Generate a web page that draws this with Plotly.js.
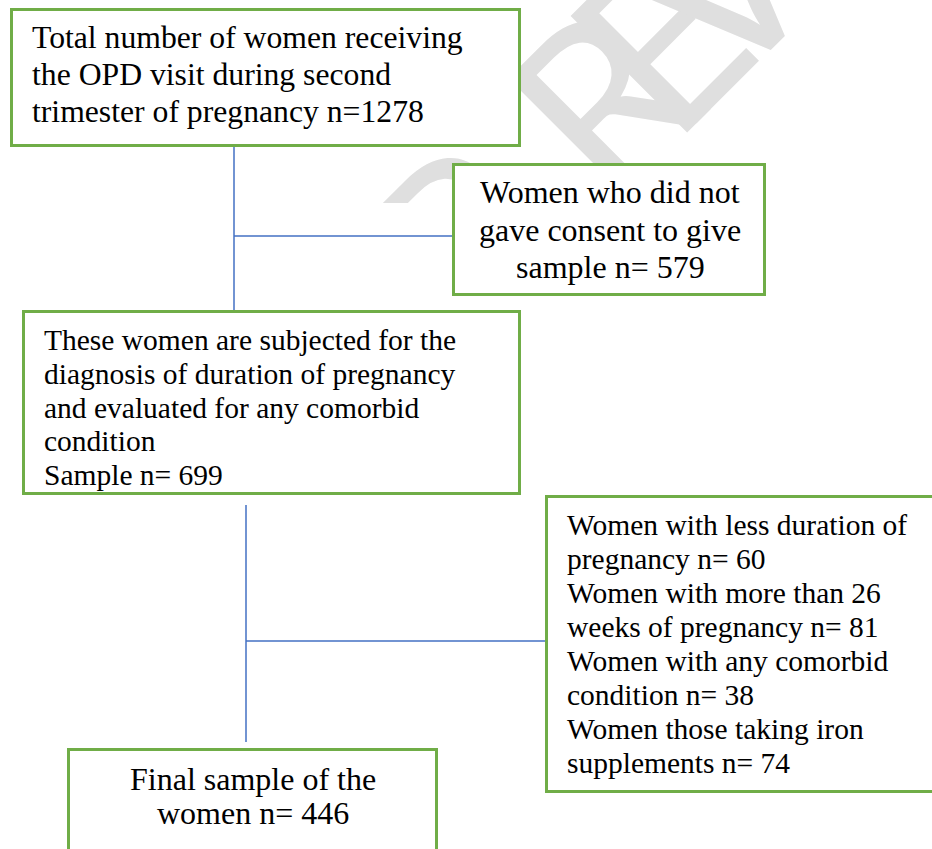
<!DOCTYPE html>
<html>
<head>
<meta charset="utf-8">
<script src="https://cdn.plot.ly/plotly-3.0.1.min.js"></script>
<style>html,body{margin:0;padding:0;background:#fff;}#chart{width:932px;height:849px;}</style>
</head>
<body>
<div id="chart"></div>
<script>
// ---- data ----
const totalLines = ["Total number of women receiving", "the OPD visit during second", "trimester of pregnancy n="];
const totalN = 1278;
const noConsentLines = ["Women who did not", "gave consent to give", "sample n= "];
const noConsentN = 579;
const sampleLines = ["These women are subjected for the", "diagnosis of duration of pregnancy", "and evaluated for any comorbid", "condition", "Sample n= "];
const sampleN = 699;
const exclusionLines = [["Women with less duration of", "pregnancy n= "],
                        ["Women with more than 26", "weeks of pregnancy n= "],
                        ["Women with any comorbid", "condition n= "],
                        ["Women those taking iron", "supplements n= "]];
const exclusionN = [60, 81, 38, 74];
const finalLines = ["Final sample of the", "women n= "];
const finalN = 446;
// visible part of the faint "PREVIEW" watermark
const watermarkLetters = ["P", "R", "E", "V"];

// ---- layout geometry (pixel-like units) ----
const boxes = [
  {x0: 10,  y0: 8,   x1: 521, y1: 147},
  {x0: 452, y0: 163, x1: 766, y1: 296},
  {x0: 22,  y0: 310, x1: 521, y1: 495},
  {x0: 545, y0: 495, x1: 945, y1: 793},
  {x0: 67,  y0: 748, x1: 438, y1: 870}
];
const connectors = [
  [234, 147, 234, 310], [234, 236, 452, 236],
  [246, 505, 246, 742], [246, 641, 545, 641]
];
// centres of the watermark letters (pixels from top-left); watermark is clipped below y = 203
const wmPos = [[458, 235], [598, 96], [656, 38], [715, -20]];
const wmClipY = 203;

function withCount(lines, n) {
  const out = lines.slice();
  out[out.length - 1] = out[out.length - 1] + n;
  return out;
}
const exclusionAll = [];
exclusionLines.forEach((ls, i) => withCount(ls, exclusionN[i]).forEach(l => exclusionAll.push(l)));

const blocks = [
  {lines: withCount(totalLines, totalN), x: 32, y: 37, dy: 37, size: 31.7, anchor: 'left'},
  {lines: withCount(noConsentLines, noConsentN), x: 610, y: 192, dy: 37.7, size: 32, anchor: 'center'},
  {lines: withCount(sampleLines, sampleN), x: 44, y: 340, dy: 33.8, size: 29.5, anchor: 'left'},
  {lines: exclusionAll, x: 567, y: 525, dy: 34, size: 29.5, anchor: 'left'},
  {lines: withCount(finalLines, finalN), x: 253, y: 779, dy: 34, size: 32, anchor: 'center'}
];

const green = '#70AD47';
const blue = '#4472C4';
const serif = '"Liberation Serif", "Times New Roman", serif';
const W = 932, H = 849;

const annotations = [];
// watermark first so everything else covers it
watermarkLetters.forEach((ch, i) => {
  const p = wmPos[i];
  annotations.push({
    xref: 'paper', yref: 'paper', x: p[0] / W, y: 1 - p[1] / H, xanchor: 'center', yanchor: 'middle',
    text: ch, showarrow: false, textangle: -45,
    font: {family: '"Liberation Sans Narrow", Lato, sans-serif', size: 230, color: '#dfdfdf'}
  });
});
// white area below the watermark's clipping edge
annotations.push({
  xref: 'paper', yref: 'paper', x: 0, y: 1 - wmClipY / H, xanchor: 'left', yanchor: 'top',
  text: ' ', showarrow: false, width: W, height: H - wmClipY,
  bgcolor: '#ffffff', borderwidth: 0, borderpad: 0
});
boxes.forEach(b => {
  annotations.push({
    xref: 'x', yref: 'y', x: b.x0, y: b.y0, xanchor: 'left', yanchor: 'top',
    text: ' ', showarrow: false, width: (b.x1 - b.x0) - 6, height: (b.y1 - b.y0) - 6,
    bgcolor: '#ffffff', bordercolor: green, borderwidth: 3, borderpad: 0
  });
});
blocks.forEach(bl => {
  bl.lines.forEach((line, i) => {
    annotations.push({
      xref: 'x', yref: 'y', x: bl.x, y: bl.y + i * bl.dy, xanchor: bl.anchor, yanchor: 'middle',
      text: line, showarrow: false, align: bl.anchor, borderpad: 0, borderwidth: 0,
      font: {family: serif, size: bl.size, color: '#000000'}
    });
  });
});
connectors.forEach(c => {
  annotations.push({
    xref: 'x', yref: 'y', axref: 'x', ayref: 'y', ax: c[0], ay: c[1], x: c[2], y: c[3],
    text: '', showarrow: true, arrowhead: 0, arrowwidth: 1.5, arrowcolor: blue,
    standoff: 0, startstandoff: 0, borderpad: 0, borderwidth: 0, font: {size: 1}
  });
});

const data = [{x: [], y: [], type: 'scatter', mode: 'markers', hoverinfo: 'skip', showlegend: false}];

const layout = {
  width: W, height: H,
  margin: {l: 0, r: 0, t: 0, b: 0},
  paper_bgcolor: '#ffffff', plot_bgcolor: '#ffffff',
  xaxis: {range: [0, W], visible: false, fixedrange: true},
  yaxis: {range: [H, 0], visible: false, fixedrange: true},
  showlegend: false,
  annotations: annotations
};

Plotly.newPlot('chart', data, layout, {displayModeBar: false, staticPlot: true});
</script>
</body>
</html>
